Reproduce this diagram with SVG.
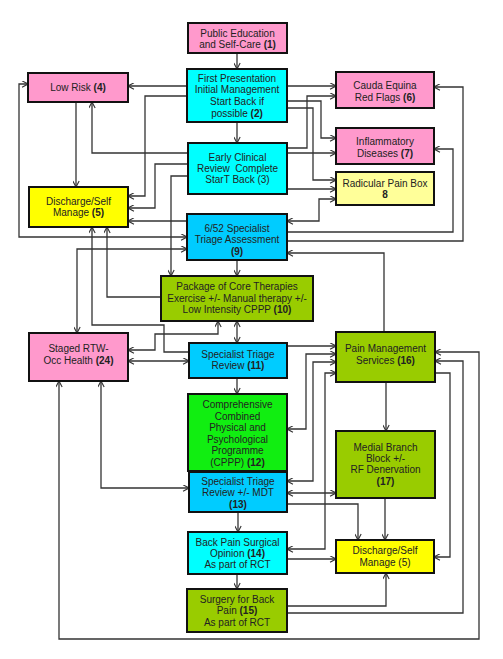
<svg xmlns="http://www.w3.org/2000/svg" width="503" height="659" viewBox="0 0 503 659">
<style>
  rect.box { stroke: #111; stroke-width: 2; }
  .pink { fill: #FF99CC; }
  .cyan { fill: #00FFFF; }
  .blue { fill: #00CCFF; }
  .yel { fill: #FFFF00; }
  .lyel { fill: #FFFF99; }
  .olive { fill: #99CC00; }
  .green { fill: #11EE11; }
  text { font-family: "Liberation Sans", Arial, sans-serif; font-size: 10px; fill: #222; text-anchor: middle; }
  .b { font-weight: bold; }
  #connectors path { fill: none; stroke: #333; stroke-width: 1.3; }
  .e { marker-end: url(#ah); }
  .d { marker-start: url(#ah); marker-end: url(#ah); }
</style>
<defs>
  <marker id="ah" viewBox="0 0 10 10" refX="9.5" refY="5" markerWidth="7" markerHeight="7" markerUnits="userSpaceOnUse" orient="auto-start-reverse">
    <path d="M1,0.5 L9.5,5 L1,9.5" fill="none" stroke="#333" stroke-width="1.6"/>
  </marker>
</defs>
<rect width="503" height="659" fill="#fff"/>

<g id="connectors">
  <path class="e" d="M237,53 V69"/>
  <path class="e" d="M187,86 H128"/>
  <path class="e" d="M187,96 H145 V196 H128"/>
  <path class="e" d="M237,122 V143"/>
  <path class="e" d="M188,153 H92 V102"/>
  <path class="e" d="M188,164 H155 V208 H128"/>
  <path class="e" d="M188,176 H171 V276"/>
  <path class="e" d="M76,102 V187"/>
  <path class="e" d="M187,221 H128"/>
  <path class="d" d="M28,84 H19 V237 H187"/>
  <path class="d" d="M77,333 V249 H187"/>
  <path class="e" d="M161,297 H107 V227"/>
  <path class="e" d="M189,352 H164 V325 H92 V227"/>
  <path class="e" d="M287,86 H336"/>
  <path class="e" d="M287,101 H321 V138 H336"/>
  <path class="e" d="M287,108 H313 V180 H336"/>
  <path class="e" d="M287,148 H307 V96 H336"/>
  <path class="e" d="M287,153 H336"/>
  <path class="e" d="M287,189 H336"/>
  <path class="d" d="M336,199 H319 V221 H287"/>
  <path class="e" d="M287,232 H453 V149 H434"/>
  <path class="e" d="M287,241 H463 V87 H434"/>
  <path class="e" d="M384,332 V253 H287"/>
  <path class="e" d="M237,260 V276"/>
  <path class="d" d="M237,321 V343"/>
  <path class="d" d="M218,321 V334 H155 V350 H128"/>
  <path class="d" d="M128,361 H189"/>
  <path class="e" d="M287,346 H336"/>
  <path class="d" d="M287,429 H306 V354 H336"/>
  <path class="d" d="M287,481 H313 V362 H336"/>
  <path class="d" d="M287,549 H325 V373 H336"/>
  <path class="d" d="M287,493 H336"/>
  <path class="e" d="M287,504 H358 V540"/>
  <path class="e" d="M385,498 V540"/>
  <path class="e" d="M386,382 V431"/>
  <path class="e" d="M287,559 H336"/>
  <path class="e" d="M287,606 H386 V573"/>
  <path class="e" d="M435,373 H450 V557 H434"/>
  <path class="e" d="M287,613 H463 V361 H435"/>
  <path class="d" d="M59,381 V639 H479 V352 H435"/>
  <path class="d" d="M101,381 V488 H189"/>
  <path class="e" d="M237,378 V394"/>
  <path class="e" d="M238,512 V532"/>
  <path class="e" d="M237,574 V589"/>
</g>

<g id="n1"><rect class="box pink" x="188" y="23" width="99" height="30"/>
  <text x="237.5" y="37">Public Education</text>
  <text x="237.5" y="48">and Self-Care <tspan class="b">(1)</tspan></text></g>
<g id="n2"><rect class="box cyan" x="187" y="69" width="100" height="53"/>
  <text x="237" y="81.5">First Presentation</text>
  <text x="237" y="93">Initial Management</text>
  <text x="237" y="105">Start Back if</text>
  <text x="237" y="116.5">possible <tspan class="b">(2)</tspan></text></g>
<g id="n3"><rect class="box cyan" x="188" y="143" width="99" height="51"/>
  <text x="237.5" y="160.5">Early Clinical</text>
  <text x="237.5" y="172">Review&#160; Complete</text>
  <text x="237.5" y="183">StarT Back (3)</text></g>
<g id="n4"><rect class="box pink" x="28" y="73" width="100" height="29"/>
  <text x="78" y="91">Low Risk <tspan class="b">(4)</tspan></text></g>
<g id="n5a"><rect class="box yel" x="29" y="187" width="99" height="40"/>
  <text x="78.5" y="204.5">Discharge/Self</text>
  <text x="78.5" y="216">Manage <tspan class="b">(5)</tspan></text></g>
<g id="n6"><rect class="box pink" x="336" y="72" width="98" height="36"/>
  <text x="385" y="88.5">Cauda Equina</text>
  <text x="385" y="100.5">Red Flags <tspan class="b">(6)</tspan></text></g>
<g id="n7"><rect class="box pink" x="336" y="128" width="98" height="36"/>
  <text x="385" y="144.5">Inflammatory</text>
  <text x="385" y="156.5">Diseases <tspan class="b">(7)</tspan></text></g>
<g id="n8"><rect class="box lyel" x="336" y="172" width="98" height="33"/>
  <text x="385" y="186.5">Radicular Pain Box</text>
  <text x="385" y="197.5" class="b">8</text></g>
<g id="n9"><rect class="box blue" x="187" y="214" width="100" height="46"/>
  <text x="237" y="231.5">6/52 Specialist</text>
  <text x="237" y="243">Triage Assessment</text>
  <text x="237" y="254.5" class="b">(9)</text></g>
<g id="n10"><rect class="box olive" x="161" y="276" width="152" height="45"/>
  <text x="237" y="289.5">Package of Core Therapies</text>
  <text x="237" y="301.5">Exercise +/- Manual therapy +/-</text>
  <text x="237" y="312.5">Low Intensity CPPP <tspan class="b">(10)</tspan></text></g>
<g id="n24"><rect class="box pink" x="29" y="333" width="99" height="48"/>
  <text x="78.5" y="351.5">Staged RTW-</text>
  <text x="78.5" y="363.5">Occ Health <tspan class="b">(24)</tspan></text></g>
<g id="n11"><rect class="box blue" x="189" y="343" width="98" height="35"/>
  <text x="238" y="357.5">Specialist Triage</text>
  <text x="238" y="368.5">Review <tspan class="b">(11)</tspan></text></g>
<g id="n16"><rect class="box olive" x="336" y="332" width="99" height="50"/>
  <text x="385.5" y="351.5">Pain Management</text>
  <text x="385.5" y="363.5">Services <tspan class="b">(16)</tspan></text></g>
<g id="n12"><rect class="box green" x="188" y="394" width="99" height="77"/>
  <text x="237.5" y="407.5">Comprehensive</text>
  <text x="237.5" y="419.5">Combined</text>
  <text x="237.5" y="430.5">Physical and</text>
  <text x="237.5" y="442.5">Psychological</text>
  <text x="237.5" y="453.5">Programme</text>
  <text x="237.5" y="465.5">(CPPP) <tspan class="b">(12)</tspan></text></g>
<g id="n17"><rect class="box olive" x="336" y="431" width="99" height="67"/>
  <text x="385.5" y="450.5">Medial Branch</text>
  <text x="385.5" y="461.5">Block +/-</text>
  <text x="385.5" y="472.5">RF Denervation</text>
  <text x="385.5" y="484.5" class="b">(17)</text></g>
<g id="n13"><rect class="box blue" x="189" y="472" width="98" height="40"/>
  <text x="238" y="484.5">Specialist Triage</text>
  <text x="238" y="495.5">Review +/- MDT</text>
  <text x="238" y="507.5" class="b">(13)</text></g>
<g id="n14"><rect class="box cyan" x="188" y="532" width="99" height="42"/>
  <text x="237.5" y="545.5">Back Pain Surgical</text>
  <text x="237.5" y="556.5">Opinion <tspan class="b">(14)</tspan></text>
  <text x="237.5" y="567.5">As part of RCT</text></g>
<g id="n15"><rect class="box olive" x="187" y="589" width="100" height="43"/>
  <text x="237" y="602.5">Surgery for Back</text>
  <text x="237" y="613.5">Pain <tspan class="b">(15)</tspan></text>
  <text x="237" y="625.5">As part of RCT</text></g>
<g id="n5b"><rect class="box yel" x="336" y="540" width="98" height="33"/>
  <text x="385" y="553.5">Discharge/Self</text>
  <text x="385" y="565.5">Manage (5)</text></g>
</svg>
